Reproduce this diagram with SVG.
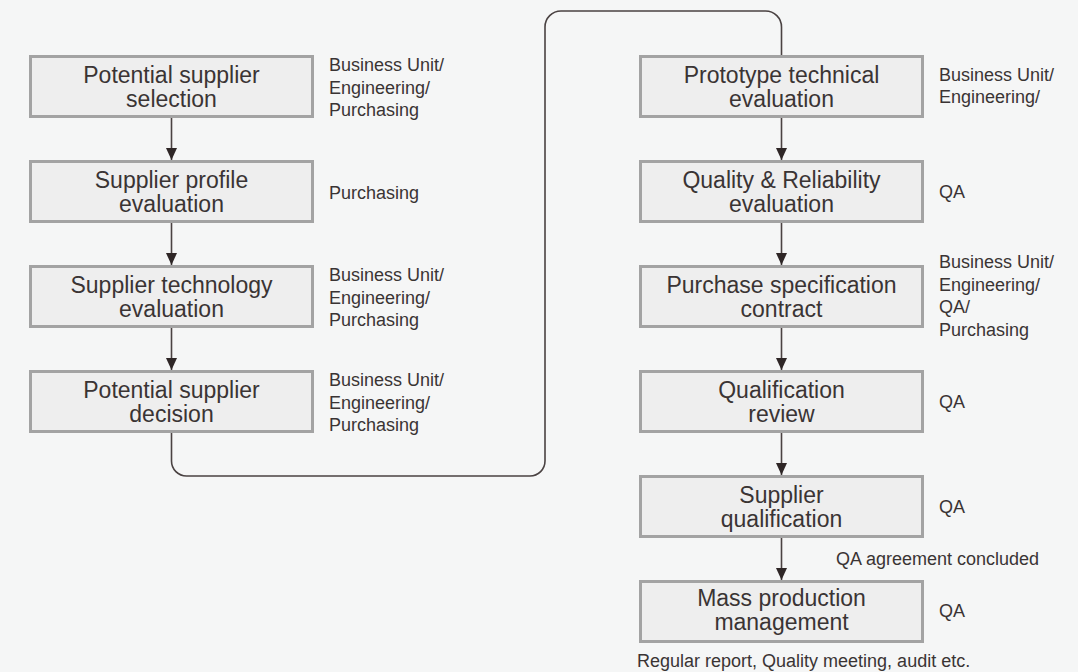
<svg xmlns="http://www.w3.org/2000/svg" width="1078" height="672" viewBox="0 0 1078 672">
<defs>
<marker id="ah" markerWidth="12" markerHeight="11" refX="12" refY="5.5" orient="auto" markerUnits="userSpaceOnUse">
<path d="M0,0 L12,5.5 L0,11 Z" fill="#2e2626"/>
</marker>
<style>
.box{fill:#eeeeee;stroke:#a3a3a3;stroke-width:3}
.bt{font-family:"Liberation Sans",Arial,sans-serif;font-size:23px;fill:#3a3434;text-anchor:middle}
.lb{font-family:"Liberation Sans",Arial,sans-serif;font-size:18px;fill:#3a3434}
.ln{fill:none;stroke:#4a4242;stroke-width:1.6}
</style>
</defs>
<rect x="0" y="0" width="1078" height="672" fill="#f5f6f6"/>
<g id="connectors">
<line class="ln" x1="171.5" y1="118" x2="171.5" y2="160" marker-end="url(#ah)"/>
<line class="ln" x1="171.5" y1="223" x2="171.5" y2="265" marker-end="url(#ah)"/>
<line class="ln" x1="171.5" y1="328" x2="171.5" y2="370" marker-end="url(#ah)"/>
<path class="ln" d="M171.5,433 V461 A15,15 0 0 0 186.5,476 H530 A15,15 0 0 0 545,461 V27 A16,16 0 0 1 561,11 H765.5 A16,16 0 0 1 781.5,27 V55"/>
<line class="ln" x1="781.5" y1="118" x2="781.5" y2="160" marker-end="url(#ah)"/>
<line class="ln" x1="781.5" y1="223" x2="781.5" y2="265" marker-end="url(#ah)"/>
<line class="ln" x1="781.5" y1="328" x2="781.5" y2="370" marker-end="url(#ah)"/>
<line class="ln" x1="781.5" y1="433" x2="781.5" y2="475" marker-end="url(#ah)"/>
<line class="ln" x1="781.5" y1="538" x2="781.5" y2="580" marker-end="url(#ah)"/>
<text class="lb" x="836" y="565">QA agreement concluded</text>
</g>
<g id="n1">
<rect class="box" x="30.5" y="56.5" width="282" height="60"/>
<text class="bt" x="171.5" y="83">Potential supplier</text>
<text class="bt" x="171.5" y="107">selection</text>
<text class="lb" x="329" y="71">Business Unit/</text>
<text class="lb" x="329" y="93.5">Engineering/</text>
<text class="lb" x="329" y="116">Purchasing</text>
</g>
<g id="n2">
<rect class="box" x="30.5" y="161.5" width="282" height="60"/>
<text class="bt" x="171.5" y="188">Supplier profile</text>
<text class="bt" x="171.5" y="212">evaluation</text>
<text class="lb" x="329" y="199">Purchasing</text>
</g>
<g id="n3">
<rect class="box" x="30.5" y="266.5" width="282" height="60"/>
<text class="bt" x="171.5" y="293">Supplier technology</text>
<text class="bt" x="171.5" y="317">evaluation</text>
<text class="lb" x="329" y="281">Business Unit/</text>
<text class="lb" x="329" y="303.5">Engineering/</text>
<text class="lb" x="329" y="326">Purchasing</text>
</g>
<g id="n4">
<rect class="box" x="30.5" y="371.5" width="282" height="60"/>
<text class="bt" x="171.5" y="398">Potential supplier</text>
<text class="bt" x="171.5" y="422">decision</text>
<text class="lb" x="329" y="386">Business Unit/</text>
<text class="lb" x="329" y="408.5">Engineering/</text>
<text class="lb" x="329" y="431">Purchasing</text>
</g>
<g id="n5">
<rect class="box" x="640.5" y="56.5" width="282" height="60"/>
<text class="bt" x="781.5" y="83">Prototype technical</text>
<text class="bt" x="781.5" y="107">evaluation</text>
<text class="lb" x="939" y="81">Business Unit/</text>
<text class="lb" x="939" y="103">Engineering/</text>
</g>
<g id="n6">
<rect class="box" x="640.5" y="161.5" width="282" height="60"/>
<text class="bt" x="781.5" y="188">Quality &amp; Reliability</text>
<text class="bt" x="781.5" y="212">evaluation</text>
<text class="lb" x="939" y="198">QA</text>
</g>
<g id="n7">
<rect class="box" x="640.5" y="266.5" width="282" height="60"/>
<text class="bt" x="781.5" y="293">Purchase specification</text>
<text class="bt" x="781.5" y="317">contract</text>
<text class="lb" x="939" y="268">Business Unit/</text>
<text class="lb" x="939" y="290.5">Engineering/</text>
<text class="lb" x="939" y="313">QA/</text>
<text class="lb" x="939" y="335.5">Purchasing</text>
</g>
<g id="n8">
<rect class="box" x="640.5" y="371.5" width="282" height="60"/>
<text class="bt" x="781.5" y="398">Qualification</text>
<text class="bt" x="781.5" y="422">review</text>
<text class="lb" x="939" y="408">QA</text>
</g>
<g id="n9">
<rect class="box" x="640.5" y="476.5" width="282" height="60"/>
<text class="bt" x="781.5" y="503">Supplier</text>
<text class="bt" x="781.5" y="527">qualification</text>
<text class="lb" x="939" y="513">QA</text>
</g>
<g id="n10">
<rect class="box" x="640.5" y="581.5" width="282" height="60"/>
<text class="bt" x="781.5" y="606">Mass production</text>
<text class="bt" x="781.5" y="630">management</text>
<text class="lb" x="939" y="617">QA</text>
<text class="lb" x="637" y="667">Regular report, Quality meeting, audit etc.</text>
</g>
</svg>
